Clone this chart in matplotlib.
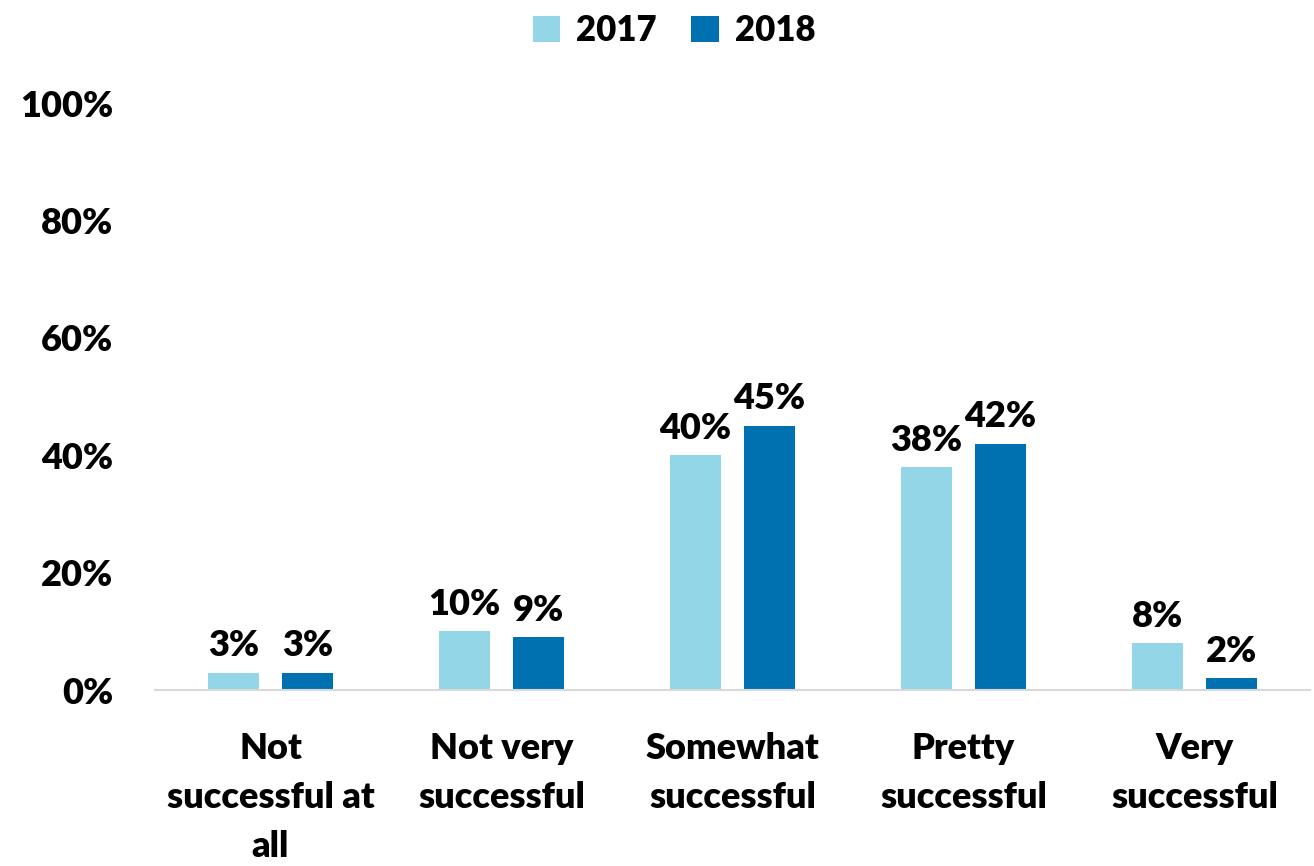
import numpy as np
import matplotlib.pyplot as plt

plt.rcParams['font.family'] = ['Lato', 'DejaVu Sans']
plt.rcParams['font.weight'] = 'heavy'

categories = ['Not\nsuccessful at\nall', 'Not very\nsuccessful', 'Somewhat\nsuccessful',
              'Pretty\nsuccessful', 'Very\nsuccessful']
years = ['2017', '2018']
vals_2017 = [3, 10, 40, 38, 8]
vals_2018 = [3, 9, 45, 42, 2]
colors = ['#92D6E7', '#0071B0']

fig = plt.figure(figsize=(13.14, 8.66), dpi=100)
ax = fig.add_axes([0.118, 0.203, 0.879, 0.678])

x = np.arange(len(categories))
w = 0.22
off = 0.16
for vals, dx, col, lab in [(vals_2017, -off, colors[0], years[0]),
                           (vals_2018, off, colors[1], years[1])]:
    bars = ax.bar(x + dx, vals, width=w, color=col, label=lab)
    for b, v in zip(bars, vals):
        ax.text(b.get_x() + b.get_width() / 2, v + 1.8, f'{v}%', ha='center', va='bottom',
                fontsize=26, fontweight='heavy')

ax.set_xlim(-0.5, 4.5)
ax.set_ylim(0, 100)
ax.set_yticks(range(0, 101, 20))
ax.set_yticklabels([f'{t}%' for t in range(0, 101, 20)], fontsize=26, fontweight='heavy')
ax.set_xticks(x)
ax.set_xticklabels(categories, fontsize=26, fontweight='heavy', linespacing=1.6)
ax.tick_params(axis='both', length=0)
ax.tick_params(axis='y', pad=30)
ax.tick_params(axis='x', pad=30)
for s in ['top', 'right', 'left']:
    ax.spines[s].set_visible(False)
ax.spines['bottom'].set_color('#d9d9d9')
ax.spines['bottom'].set_linewidth(1.5)

fig.legend(loc='upper center', bbox_to_anchor=(0.513, 1.02), ncol=2, frameon=False,
           fontsize=25, handlelength=0.8, handleheight=0.8, handletextpad=0.45,
           columnspacing=1.0)

fig.savefig('out.png', dpi=100)
